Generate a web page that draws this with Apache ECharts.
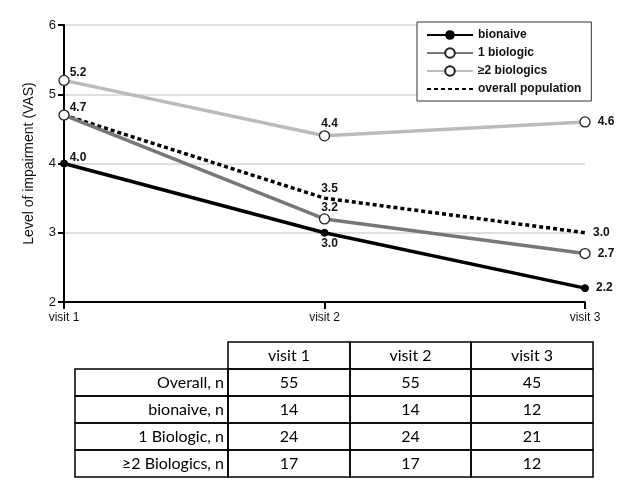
<!DOCTYPE html>
<html><head><meta charset="utf-8">
<script src="https://cdn.jsdelivr.net/npm/echarts@6/dist/echarts.min.js"></script>
<style>html,body{margin:0;padding:0;background:#fff}#c{width:640px;height:500px}</style>
</head><body><div id="c"></div>
<script>
const categories = ['visit 1', 'visit 2', 'visit 3'];
const bionaive = [4.0, 3.0, 2.2];
const oneBiologic = [4.7, 3.2, 2.7];
const twoBiologics = [5.2, 4.4, 4.6];
const overallPop = [4.7, 3.5, 3.0];
const yTicks = [2, 3, 4, 5, 6];

const tableHeader = ['visit 1', 'visit 2', 'visit 3'];
const tableRowLabels = ['Overall, n', 'bionaive, n', '1 Biologic, n', '≥2 Biologics, n'];
const overallN = [55, 55, 45];
const bionaiveN = [14, 14, 12];
const oneBiologicN = [24, 24, 21];
const twoBiologicsN = [17, 17, 12];
const tableValues = [overallN, bionaiveN, oneBiologicN, twoBiologicsN];

const chart = echarts.init(document.getElementById('c'), null, {renderer: 'canvas'});
const FONT = '"Liberation Sans", Arial, sans-serif';
const lbl = {fontFamily: FONT, fontWeight: 'bold', fontSize: 12, color: '#111'};

function mk(values, places) {
  return values.map((v, i) => {
    const p = places[i];
    if (!p) return {value: v, label: {show: false}};
    return {value: v, label: Object.assign({show: true, formatter: (d) => d.value.toFixed(1)}, lbl, p)};
  });
}
const TR = {position: 'top', distance: 2, offset: [14, 6]};
const T = {position: 'top', distance: 2, offset: [5, 2]};
const B = {position: 'bottom', distance: 2, offset: [5, -1]};
const R = {position: 'right', distance: 7};

const colX = [75, 228, 350, 471, 593];
const rowY = [342, 369, 396, 423, 450, 477];
const g = [];
const TFONT = 'Lato, "Open Sans", sans-serif';
for (let c = 0; c < 3; c++) {
  g.push({type: 'rect', shape: {x: colX[c + 1], y: rowY[0], width: colX[c + 2] - colX[c + 1], height: rowY[1] - rowY[0]},
    style: {fill: 'none', stroke: '#000', lineWidth: 1.5}});
  g.push({type: 'text', x: (colX[c + 1] + colX[c + 2]) / 2, y: (rowY[0] + rowY[1]) / 2,
    style: {text: tableHeader[c], fontFamily: TFONT, fontSize: 16, fill: '#000', align: 'center', verticalAlign: 'middle'}});
}
for (let r = 0; r < tableRowLabels.length; r++) {
  const y0 = rowY[r + 1], y1 = rowY[r + 2];
  for (let c = 0; c < 4; c++) {
    g.push({type: 'rect', shape: {x: colX[c], y: y0, width: colX[c + 1] - colX[c], height: y1 - y0},
      style: {fill: 'none', stroke: '#000', lineWidth: 1.5}});
  }
  g.push({type: 'text', x: colX[1] - 4, y: (y0 + y1) / 2,
    style: {text: tableRowLabels[r], fontFamily: TFONT, fontSize: 16, fill: '#000', align: 'right', verticalAlign: 'middle'}});
  for (let c = 0; c < 3; c++) {
    g.push({type: 'text', x: (colX[c + 1] + colX[c + 2]) / 2, y: (y0 + y1) / 2,
      style: {text: String(tableValues[r][c]), fontFamily: TFONT, fontSize: 16, fill: '#000', align: 'center', verticalAlign: 'middle'}});
  }
}

chart.setOption({
  animation: false,
  backgroundColor: '#fff',
  textStyle: {fontFamily: FONT},
  grid: {left: 64, right: 55, top: 25, bottom: 198, containLabel: false},
  legend: {
    orient: 'vertical', left: 417, top: 22,
    backgroundColor: '#fff', borderColor: '#333', borderWidth: 1, borderRadius: 0,
    padding: [7, 10, 6, 9], itemGap: 6, itemWidth: 46, itemHeight: 12,
    textStyle: {fontFamily: FONT, fontWeight: 'bold', fontSize: 12, color: '#111'},
    data: ['bionaive', '1 biologic', '≥2 biologics', 'overall population']
  },
  xAxis: {
    type: 'category', data: categories, boundaryGap: false,
    axisLine: {lineStyle: {color: '#000', width: 2}},
    axisTick: {show: true, alignWithLabel: true, length: 7, lineStyle: {color: '#000', width: 2}},
    axisLabel: {color: '#111', fontSize: 12, fontFamily: FONT, margin: 10},
    splitLine: {show: false}
  },
  yAxis: {
    type: 'value', min: yTicks[0], max: yTicks[yTicks.length - 1], interval: 1,
    name: 'Level of impairment (VAS)', nameLocation: 'middle', nameGap: 28,
    nameTextStyle: {fontFamily: FONT, fontSize: 14, color: '#111'},
    axisLine: {show: true, lineStyle: {color: '#000', width: 2}},
    axisTick: {show: true, length: 6, lineStyle: {color: '#000', width: 2}},
    axisLabel: {color: '#111', fontSize: 13, fontFamily: FONT, margin: 8},
    splitLine: {show: true, lineStyle: {color: '#d4d4d4', width: 1.5}}
  },
  series: [
    {name: 'bionaive', type: 'line', z: 5,
     data: mk(bionaive, [TR, B, R]),
     lineStyle: {color: '#000', width: 3.5}, itemStyle: {color: '#000', borderColor: '#000'},
     symbol: 'circle', symbolSize: 7},
    {name: '1 biologic', type: 'line', z: 4,
     data: mk(oneBiologic, [TR, T, R]),
     lineStyle: {color: '#777', width: 3.5}, itemStyle: {color: '#fff', borderColor: '#222', borderWidth: 1.3},
     symbol: 'circle', symbolSize: 10},
    {name: '≥2 biologics', type: 'line', z: 4,
     data: mk(twoBiologics, [TR, T, R]),
     lineStyle: {color: '#bbb', width: 3.5}, itemStyle: {color: '#fff', borderColor: '#222', borderWidth: 1.3},
     symbol: 'circle', symbolSize: 10},
    {name: 'overall population', type: 'line', z: 3,
     data: mk(overallPop, [null, {position: 'top', distance: 2, offset: [5, 0]}, R]),
     lineStyle: {color: '#000', width: 3.5, type: [4, 3]},
     itemStyle: {color: 'rgba(0,0,0,0)', borderColor: 'rgba(0,0,0,0)', borderWidth: 0},
     symbol: 'circle', symbolSize: 2, showSymbol: true}
  ],
  graphic: g
});
</script></body></html>
